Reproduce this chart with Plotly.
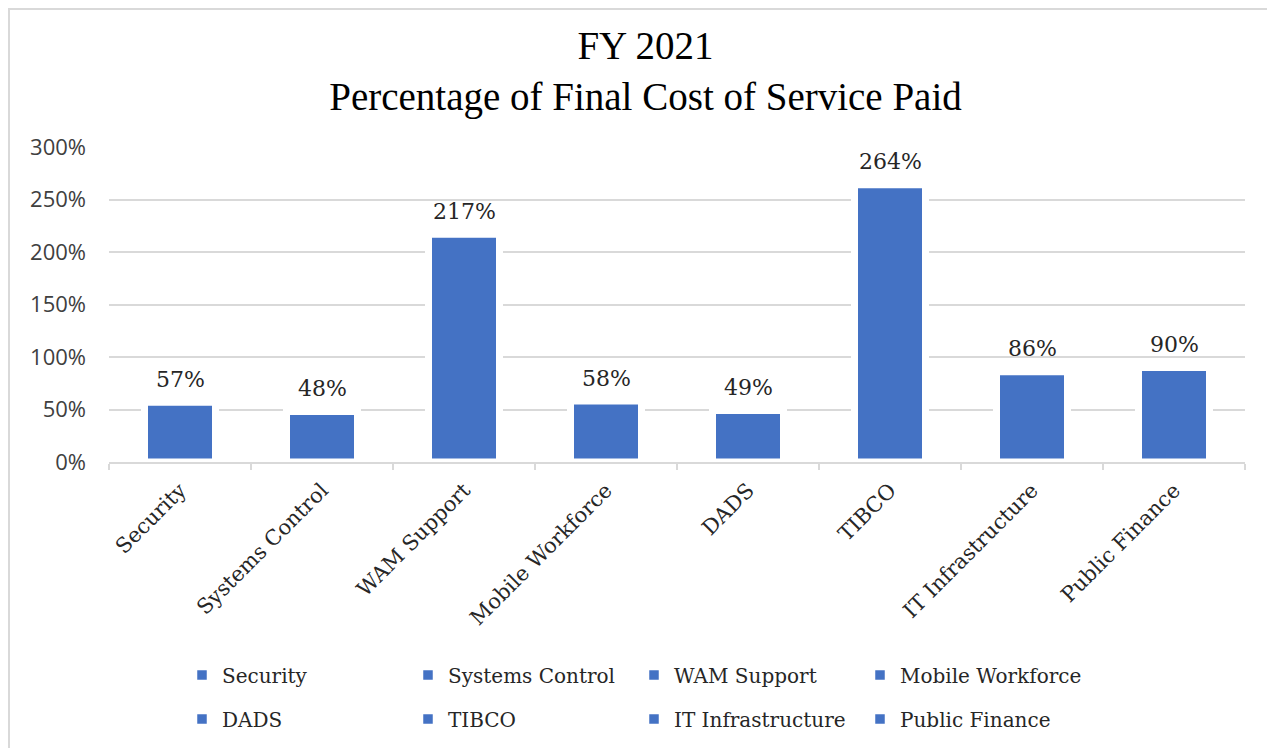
import plotly.graph_objects as go

categories = ["Security", "Systems Control", "WAM Support", "Mobile Workforce",
              "DADS", "TIBCO", "IT Infrastructure", "Public Finance"]
values = [57, 48, 217, 58, 49, 264, 86, 90]
labels = ["57%", "48%", "217%", "58%", "49%", "264%", "86%", "90%"]
y_ticks = [0, 50, 100, 150, 200, 250, 300]
y_tick_text = ["0%", "50%", "100%", "150%", "200%", "250%", "300%"]

BAR = "#4472C4"
SERIF = "DejaVu Serif"
TITLE_FONT = "Liberation Serif"
SANS = "Open Sans"
GRID = "#d9d9d9"

W, H = 1275, 748
OFF = 8  # page body margin
ML, MT = 101, 139
PW, PH = 1136, 315
MR = W - ML - PW
MB = H - MT - PH

def px_x(s):
    return (s - OFF - ML) / PW

def px_y(s):
    return (H - MB - (s - OFF)) / PH

fig = go.Figure()
for i, (c, v) in enumerate(zip(categories, values)):
    fig.add_trace(go.Bar(
        x=[c], y=[v], name=c, width=0.5, legendgroup=c, showlegend=False,
        marker=dict(color=BAR, line=dict(color="white", width=7)),
        hovertemplate="%{x}: %{y}%<extra></extra>",
    ))
for i, c in enumerate(categories):
    fig.add_trace(go.Bar(
        x=[c], y=[None], name=c, legendgroup=c, showlegend=True,
        marker=dict(color=BAR, line=dict(color="white", width=2.5)),
        legend="legend" if i < 4 else "legend2", hoverinfo="skip",
    ))

annotations = []
for c, v, t in zip(categories, values, labels):
    annotations.append(dict(
        x=c, y=v, xref="x", yref="y", text=t, showarrow=False,
        yanchor="middle", yshift=23,
        font=dict(family=SERIF, size=22, color="#262626"),
    ))

legend_common = dict(
    orientation="h", xanchor="left", yanchor="middle",
    entrywidth=181, entrywidthmode="pixels",
    font=dict(family=SERIF, size=20, color="#262626"),
    bgcolor="rgba(0,0,0,0)", traceorder="normal",
)

fig.update_layout(
    width=W, height=H,
    margin=dict(l=ML, r=MR, t=MT, b=MB),
    paper_bgcolor="white", plot_bgcolor="white",
    barmode="overlay",
    title=dict(
        text="FY 2021<br>Percentage of Final Cost of Service Paid",
        x=0.5, xref="container", xanchor="center",
        y=1 - 51 / H, yref="container", yanchor="middle",
        font=dict(family=TITLE_FONT, size=39, color="#000000"),
    ),
    xaxis=dict(
        type="category", categoryorder="array", categoryarray=categories,
        tickangle=-45, tickson="boundaries", ticks="outside", ticklen=6,
        tickcolor=GRID, tickwidth=1.5, ticklabelstandoff=6,
        showline=True, linecolor=GRID, linewidth=1.5,
        showgrid=False,
        tickfont=dict(family=SERIF, size=21, color="#262626"),
    ),
    yaxis=dict(
        range=[0, 300], tickvals=y_ticks, ticktext=y_tick_text,
        showgrid=True, gridcolor=GRID, gridwidth=1.5,
        zeroline=False, showline=False, ticks="",
        ticklabelstandoff=22,
        tickfont=dict(family=SANS, size=22, color="#404040"),
    ),
    legend=dict(legend_common, x=px_x(182), y=px_y(675)),
    legend2=dict(legend_common, x=px_x(182), y=px_y(719)),
    annotations=annotations,
    shapes=[dict(
        type="rect", xref="paper", yref="paper",
        x0=px_x(OFF + 1), x1=px_x(W + 40), y0=px_y(H + 40), y1=px_y(OFF + 1),
        line=dict(color=GRID, width=2), fillcolor="rgba(0,0,0,0)", layer="below",
    )],
    showlegend=True,
)

fig.write_html("out.html")
